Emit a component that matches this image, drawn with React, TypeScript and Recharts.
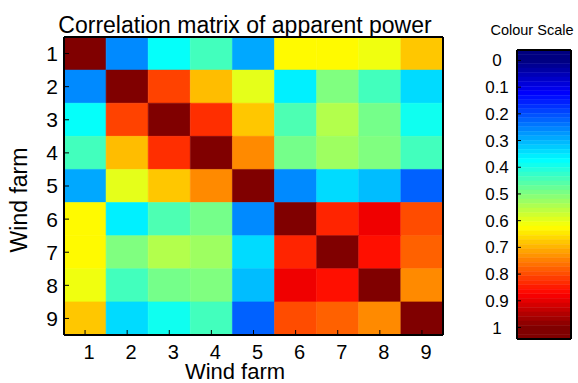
import { BarChart, Bar, Cell, XAxis, YAxis, ComposedChart, ReferenceArea } from "recharts";

const farms = ["1", "2", "3", "4", "5", "6", "7", "8", "9"];

// correlation of apparent power between wind farms
const correlation: number[][] = [
  [1.0, 0.26, 0.38, 0.44, 0.29, 0.63, 0.63, 0.61, 0.68],
  [0.26, 1.0, 0.81, 0.69, 0.6, 0.36, 0.5, 0.44, 0.34],
  [0.38, 0.81, 1.0, 0.83, 0.68, 0.45, 0.55, 0.49, 0.39],
  [0.44, 0.69, 0.83, 1.0, 0.74, 0.49, 0.53, 0.5, 0.44],
  [0.29, 0.6, 0.68, 0.74, 1.0, 0.26, 0.34, 0.31, 0.22],
  [0.63, 0.36, 0.45, 0.49, 0.26, 1.0, 0.84, 0.89, 0.8],
  [0.63, 0.5, 0.55, 0.53, 0.34, 0.84, 1.0, 0.86, 0.78],
  [0.61, 0.44, 0.49, 0.5, 0.31, 0.89, 0.86, 1.0, 0.74],
  [0.68, 0.34, 0.39, 0.44, 0.22, 0.8, 0.78, 0.74, 1.0],
];

const colourTicks = [0, 0.1, 0.2, 0.3, 0.4, 0.5, 0.6, 0.7, 0.8, 0.9, 1];
const colourRange: [number, number] = [-0.039, 1.043];

const FONT = "'Liberation Sans', Arial, sans-serif";

const clamp = (x: number) => Math.max(0, Math.min(1, x));

// MATLAB style jet colormap
function jet(v: number): string {
  const t = clamp(v);
  const r = clamp(1.5 - Math.abs(4 * t - 3));
  const g = clamp(1.5 - Math.abs(4 * t - 2));
  const b = clamp(1.5 - Math.abs(4 * t - 1));
  const h = (x: number) => Math.round(x * 255).toString(16).padStart(2, "0");
  return `#${h(r)}${h(g)}${h(b)}`;
}

const rowKeys = farms.map((_, i) => `r${i}`);
const tableData = farms.map((farm) => {
  const row: Record<string, string | number> = { farm };
  rowKeys.forEach((k) => (row[k] = 1));
  return row;
});
const rowTicks = farms.map((_, i) => i + 0.5);

// colour bar is drawn as 64 bands, like a 64 entry colormap
const BAND_COUNT = 64;
const bandStep = (colourRange[1] - colourRange[0]) / BAND_COUNT;
const bands = Array.from({ length: BAND_COUNT }, (_, i) => colourRange[0] + i * bandStep);
const bandData = bands.map((b) => ({ pos: 0.5, level: b }));

const axisLine = { stroke: "#000", strokeWidth: 2 };
const tickLine = { stroke: "#000", strokeWidth: 1 };

function ColourTick(props: any) {
  const { x, y, payload } = props;
  const v = payload.value as number;
  const text = v === 0 || v === 1 ? String(v) : v.toFixed(1);
  return (
    <text x={x} y={y} dy="0.355em" textAnchor="middle" fontSize={17} fill="#000" fontFamily={FONT}>
      {text}
    </text>
  );
}

export default function App() {
  return (
    <div style={{ position: "absolute", left: 0, top: 0, width: 578, height: 383, background: "#fff" }}>
      <div style={{ position: "absolute", left: 0, top: 0 }}>
        <BarChart
          width={450}
          height={383}
          data={tableData}
          margin={{ top: 36, right: 0, bottom: 0, left: 0 }}
          barCategoryGap={0}
          barGap={0}
          style={{ fontFamily: FONT }}
        >
          {rowKeys.map((key, r) => (
            <Bar key={key} dataKey={key} stackId="m" isAnimationActive={false}>
              {farms.map((f, c) => (
                <Cell key={f} fill={jet(correlation[r][c])} stroke={jet(correlation[r][c])} strokeWidth={0.6} />
              ))}
            </Bar>
          ))}
          <XAxis
            dataKey="farm"
            height={48}
            interval={0}
            tickSize={-5}
            tickMargin={15}
            axisLine={axisLine}
            tickLine={tickLine}
            tick={{ fill: "#000", fontSize: 20, dx: 4 }}
            label={{
              content: () => (
                <text x={235} y={379} textAnchor="middle" fontSize={22} fill="#000" fontFamily={FONT}>
                  Wind farm
                </text>
              ),
            }}
          />
          <XAxis
            xAxisId="top"
            dataKey="farm"
            orientation="top"
            height={1}
            interval={0}
            tickSize={-5}
            tick={false}
            axisLine={axisLine}
            tickLine={tickLine}
            label={{
              content: () => (
                <text x={245} y={33} textAnchor="middle" fontSize={23} fill="#000" fontFamily={FONT}>
                  Correlation matrix of apparent power
                </text>
              ),
            }}
          />
          <YAxis
            type="number"
            domain={[0, 9]}
            reversed
            ticks={rowTicks}
            interval={0}
            width={64}
            tickSize={-5}
            tickMargin={11}
            axisLine={axisLine}
            tickLine={tickLine}
            tick={{ fill: "#000", fontSize: 21 }}
            tickFormatter={(v: number) => farms[Math.round(v - 0.5)]}
            label={{
              content: () => (
                <text x={27} y={200} transform="rotate(-90 27 200)" textAnchor="middle" fontSize={23} fill="#000" fontFamily={FONT}>
                  Wind farm
                </text>
              ),
            }}
          />
          <YAxis
            yAxisId="right"
            orientation="right"
            type="number"
            domain={[0, 9]}
            reversed
            ticks={rowTicks}
            interval={0}
            width={7}
            tickSize={-5}
            tick={false}
            axisLine={axisLine}
            tickLine={tickLine}
          />
        </BarChart>
      </div>
      <div style={{ position: "absolute", left: 450, top: 0 }}>
        <ComposedChart
          width={128}
          height={383}
          data={bandData}
          margin={{ top: 49, right: 6, bottom: 43, left: 0 }}
          style={{ fontFamily: FONT }}
        >
          {bands.map((b) => (
            <ReferenceArea
              key={b}
              x1={0}
              x2={1}
              y1={b}
              y2={b + bandStep}
              fill={jet(b + bandStep / 2)}
              fillOpacity={1}
              stroke={jet(b + bandStep / 2)}
              strokeWidth={0.5}
              ifOverflow="visible"
            />
          ))}
          <XAxis
            dataKey="pos"
            type="number"
            domain={[0, 1]}
            ticks={[0.5]}
            height={1}
            tickSize={-4}
            tick={false}
            axisLine={axisLine}
            tickLine={tickLine}
          />
          <XAxis
            xAxisId="top"
            dataKey="pos"
            orientation="top"
            type="number"
            domain={[0, 1]}
            ticks={[0.5]}
            height={1}
            tickSize={-4}
            tick={false}
            axisLine={axisLine}
            tickLine={tickLine}
            label={{
              content: () => (
                <text x={82} y={35} textAnchor="middle" fontSize={14.5} fill="#000" fontFamily={FONT}>
                  Colour Scale
                </text>
              ),
            }}
          />
          <YAxis
            dataKey="level"
            type="number"
            domain={colourRange}
            allowDataOverflow
            reversed
            ticks={colourTicks}
            interval={0}
            width={67}
            tickSize={-4}
            tickMargin={24}
            axisLine={axisLine}
            tickLine={tickLine}
            tick={<ColourTick />}
          />
          <YAxis
            yAxisId="right"
            dataKey="level"
            orientation="right"
            type="number"
            domain={colourRange}
            allowDataOverflow
            reversed
            ticks={colourTicks}
            interval={0}
            width={1}
            tickSize={-4}
            tick={false}
            axisLine={axisLine}
            tickLine={tickLine}
          />
        </ComposedChart>
      </div>
    </div>
  );
}
